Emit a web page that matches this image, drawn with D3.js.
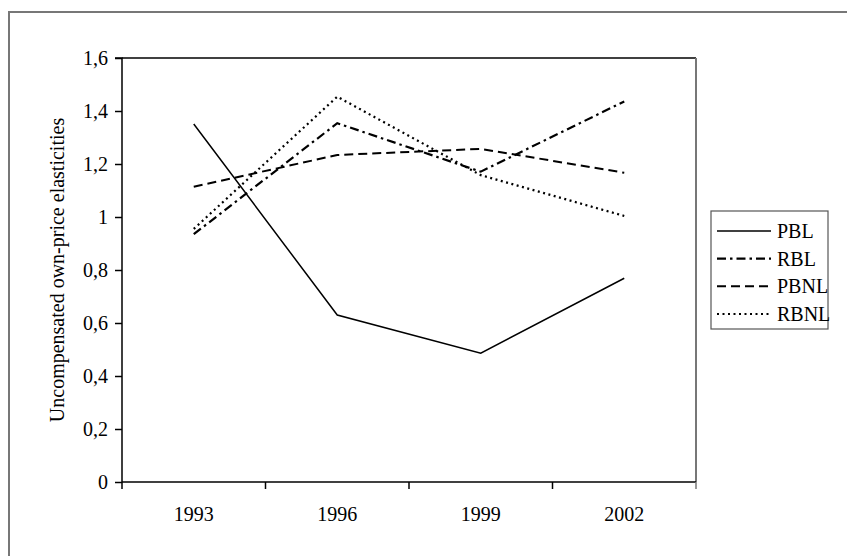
<!DOCTYPE html>
<html>
<head>
<meta charset="utf-8">
<script src="https://cdn.jsdelivr.net/npm/d3@7"></script>
<style>
  body { margin: 0; background: #fff; }
  text { font-family: "Liberation Serif", "Times New Roman", serif; fill: #000; }
</style>
</head>
<body>
<svg id="chart" width="847" height="556"></svg>
<script>
const years = ["1993", "1996", "1999", "2002"];
const pbl  = [1.351, 0.630, 0.486, 0.769];
const rbl  = [0.935, 1.354, 1.171, 1.436];
const pbnl = [1.114, 1.234, 1.257, 1.167];
const rbnl = [0.955, 1.454, 1.158, 1.004];
const yTicks = [0, 0.2, 0.4, 0.6, 0.8, 1, 1.2, 1.4, 1.6];
const seriesNames = ["PBL", "RBL", "PBNL", "RBNL"];

const series = [
    {name: seriesNames[0], values: pbl,  dash: null,        width: 1.5},
    {name: seriesNames[1], values: rbl,  dash: "9,4,2.5,4", width: 2.2},
    {name: seriesNames[2], values: pbnl, dash: "9,5",       width: 2},
    {name: seriesNames[3], values: rbnl, dash: "2,3.5",     width: 2.2},
];

const svg = d3.select("#chart");

// chart frame (only top/left fall inside the picture)
svg.append("rect")
    .attr("x", 9).attr("y", 12)
    .attr("width", 900).attr("height", 600)
    .attr("fill", "none")
    .attr("stroke", "#777")
    .attr("stroke-width", 2);

const plot = {left: 122, top: 58, right: 696, bottom: 482};

const x = d3.scaleBand().domain(years).range([plot.left, plot.right]);
const y = d3.scaleLinear().domain([0, 1.6]).range([plot.bottom, plot.top]);
const fmt = d => d3.format(".1~f")(d).replace(".", ",");

// plot area borders: top black, right gray
svg.append("line")
    .attr("x1", plot.left).attr("x2", plot.right)
    .attr("y1", plot.top).attr("y2", plot.top)
    .attr("stroke", "#000").attr("stroke-width", 1.5);
svg.append("line")
    .attr("x1", plot.right).attr("x2", plot.right)
    .attr("y1", plot.top).attr("y2", plot.bottom)
    .attr("stroke", "#777").attr("stroke-width", 2);

// Y axis
const yAxis = d3.axisLeft(y).tickValues(yTicks).tickFormat(fmt).tickSize(7).tickPadding(7);
const gy = svg.append("g").attr("transform", `translate(${plot.left},0)`).call(yAxis);
gy.select(".domain").attr("stroke-width", 1.5).attr("d", `M-7,${plot.top}H0V${plot.bottom}`);
gy.selectAll(".tick line").attr("stroke-width", 1.5);
gy.selectAll("text").attr("font-size", "20px").attr("font-family", "Liberation Serif");

// X axis: ticks on band boundaries
const gx = svg.append("g").attr("transform", `translate(0,${plot.bottom})`);
gx.append("line")
    .attr("x1", plot.left).attr("x2", plot.right)
    .attr("stroke", "#000").attr("stroke-width", 1.5);
const bounds = years.map(d => x(d)).concat([plot.right]);
gx.selectAll(".xt").data(bounds).enter().append("line")
    .attr("class", "xt")
    .attr("x1", d => d).attr("x2", d => d)
    .attr("y1", 0).attr("y2", 7)
    .attr("stroke", (d, i) => i === bounds.length - 1 ? "#777" : "#000")
    .attr("stroke-width", 1.5);
gx.selectAll(".xl").data(years).enter().append("text")
    .attr("class", "xl")
    .attr("x", d => x(d) + x.bandwidth() / 2)
    .attr("y", 39)
    .attr("text-anchor", "middle")
    .attr("font-size", "20px")
    .text(d => d);

// Y axis title
svg.append("text")
    .attr("transform", `translate(64,${(plot.top + plot.bottom) / 2}) rotate(-90)`)
    .attr("text-anchor", "middle")
    .attr("font-size", "20px")
    .text("Uncompensated own-price elasticities");

// lines
const line = d3.line()
    .x((d, i) => x(years[i]) + x.bandwidth() / 2)
    .y(d => y(d));

series.forEach(s => {
    svg.append("path")
        .datum(s.values)
        .attr("d", line)
        .attr("fill", "none")
        .attr("stroke", "#000")
        .attr("stroke-width", s.width)
        .attr("stroke-dasharray", s.dash);
});

// legend
const legend = svg.append("g").attr("transform", "translate(711,211)");
legend.append("rect")
    .attr("width", 117).attr("height", 118)
    .attr("fill", "#fff")
    .attr("stroke", "#555")
    .attr("stroke-width", 1.2);
const legY = d3.scalePoint().domain(seriesNames).range([20, 103]);
series.forEach(s => {
    legend.append("line")
        .attr("x1", 6).attr("x2", 60)
        .attr("y1", legY(s.name)).attr("y2", legY(s.name))
        .attr("stroke", "#000")
        .attr("stroke-width", s.width)
        .attr("stroke-dasharray", s.dash);
    legend.append("text")
        .attr("x", 66)
        .attr("y", legY(s.name) + 7)
        .attr("font-size", "20px")
        .text(s.name);
});
</script>
</body>
</html>
